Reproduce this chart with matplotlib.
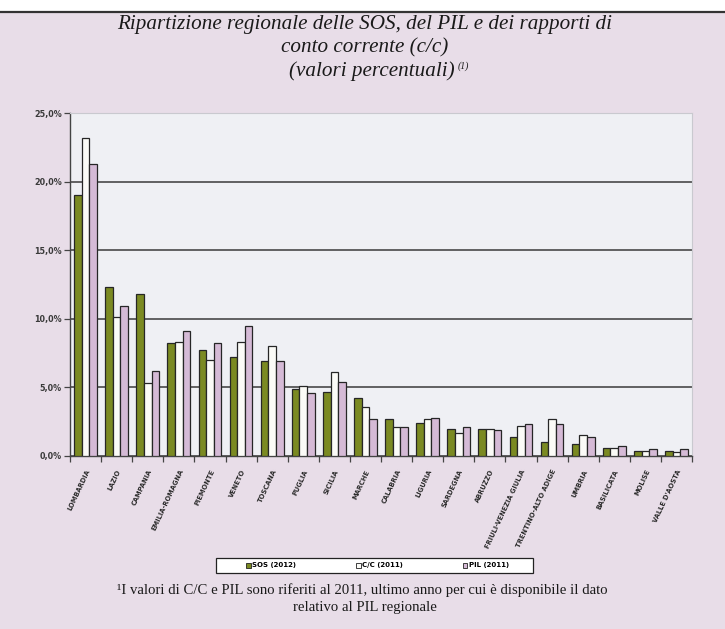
import numpy as np
import matplotlib
matplotlib.use("Agg")
import matplotlib.pyplot as plt
from matplotlib.patches import Patch, Rectangle
from matplotlib.lines import Line2D

regions = ["LOMBARDIA", "LAZIO", "CAMPANIA", "EMILIA-ROMAGNA", "PIEMONTE", "VENETO",
           "TOSCANA", "PUGLIA", "SICILIA", "MARCHE", "CALABRIA", "LIGURIA",
           "SARDEGNA", "ABRUZZO", "FRIULI-VENEZIA GIULIA", "TRENTINO-ALTO ADIGE",
           "UMBRIA", "BASILICATA", "MOLISE", "VALLE D'AOSTA"]
sos = [19.0, 12.3, 11.8, 8.2, 7.7, 7.2, 6.9, 4.9, 4.7, 4.2, 2.7, 2.4,
       2.0, 2.0, 1.4, 1.0, 0.9, 0.6, 0.4, 0.4]
cc = [23.2, 10.1, 5.3, 8.3, 7.0, 8.3, 8.0, 5.1, 6.1, 3.6, 2.1, 2.7,
      1.7, 2.0, 2.2, 2.7, 1.5, 0.6, 0.4, 0.3]
pil = [21.3, 10.9, 6.2, 9.1, 8.2, 9.5, 6.9, 4.6, 5.4, 2.7, 2.1, 2.8,
       2.1, 1.9, 2.3, 2.3, 1.4, 0.7, 0.5, 0.5]
series = ["SOS (2012)", "C/C (2011)", "PIL (2011)"]
yticks = [0, 5, 10, 15, 20, 25]

W, H = 725, 629
GREEN, WHITE, MAUVE = "#7b8a22", "#fbfbf7", "#d5bad6"
PAGE = "#e8dde8"


def box(x0, y0, x1, y1):
    """pixel box (top-left origin) -> figure fraction rect"""
    return [x0 / W, 1 - y1 / H, (x1 - x0) / W, (y1 - y0) / H]


fig = plt.figure(figsize=(W / 100, H / 100), dpi=100)
fig.patch.set_facecolor(PAGE)

# striscia bianca + filetto in alto (pagina scansionata)
fig.patches.append(Rectangle((0, 1 - 11 / H), 1, 11 / H, transform=fig.transFigure,
                             facecolor="white", edgecolor="none", zorder=0))
fig.lines.append(Line2D([0, 1], [1 - 12 / H, 1 - 12 / H], transform=fig.transFigure,
                        color="#333333", lw=1.6))

serif = ["Liberation Serif", "DejaVu Serif"]
tkw = dict(family=serif, style="italic", fontsize=15.2, ha="center", va="center", color="#1a1a1a")
fig.text(365 / W, 1 - 25 / H, "Ripartizione regionale delle SOS, del PIL e dei rapporti di", **tkw)
fig.text(365 / W, 1 - 48 / H, "conto corrente (c/c)", **tkw)
t3 = fig.text(372 / W, 1 - 71 / H, "(valori percentuali)", **tkw)
fig.canvas.draw()
bb = t3.get_window_extent()
fig.text((bb.x1 + 3) / W, 1 - 66 / H, "(1)", family=serif, style="italic",
         fontsize=7, ha="left", va="center", color="#1a1a1a")

ax = fig.add_axes(box(70, 113, 692, 456))
ax.set_facecolor("#eff0f4")
x = np.arange(len(regions))
w = 0.245
for off, vals, col in [(-w, sos, GREEN), (0, cc, WHITE), (w, pil, MAUVE)]:
    ax.bar(x + off, vals, w, color=col, edgecolor="#262626", linewidth=0.9, zorder=3)

ax.set_xlim(-0.5, len(regions) - 0.5)
ax.set_ylim(0, 25)
ax.set_yticks(yticks)
ax.set_yticklabels([("%.1f%%" % v).replace(".", ",") for v in yticks],
                   fontsize=5.8, fontweight="bold", color="#3a3a3a")
ax.grid(axis="y", color="#3a3a3a", linewidth=1.1, zorder=0)
ax.set_xticks(x)
ax.set_xticklabels(regions, rotation=65, ha="right", rotation_mode="anchor",
                   fontsize=4.8, fontweight="bold", color="#2a2a2a")
ax.set_xticks(np.arange(-0.5, len(regions), 1), minor=True)
ax.tick_params(axis="x", which="major", length=0, pad=9)
ax.tick_params(axis="x", which="minor", length=4, width=0.9, color="#444444")
ax.tick_params(axis="y", length=4, width=0.9, color="#444444", pad=2)
for s in ["left", "bottom"]:
    ax.spines[s].set_color("#444444")
    ax.spines[s].set_linewidth(1.0)
for s in ["top", "right"]:
    ax.spines[s].set_color("#c9c9cf")
    ax.spines[s].set_linewidth(0.8)

# riquadro legenda
lx0, ly0, lw_, lh = box(216, 558, 533, 573)
fig.patches.append(Rectangle((lx0, ly0), lw_, lh, transform=fig.transFigure,
                             facecolor="white", edgecolor="#222222", linewidth=0.9, zorder=1))
handles = [Patch(facecolor=c, edgecolor="#222222", linewidth=0.6) for c in (GREEN, WHITE, MAUVE)]
fig.legend(handles, series, loc="center", ncol=3,
           bbox_to_anchor=(lx0 + lw_ / 2 + 0.004, ly0 + lh / 2),
           prop={"weight": "bold", "size": 5}, handlelength=0.7, handleheight=0.7,
           handletextpad=0.2, columnspacing=8.6, borderpad=0.2, frameon=False)

fkw = dict(family=serif, fontsize=10.6, ha="center", va="center", color="#1a1a1a")
fig.text(362 / W, 1 - 590 / H,
         "\u00b9I valori di C/C e PIL sono riferiti al 2011, ultimo anno per cui \u00e8 disponibile il dato",
         **fkw)
fig.text(365 / W, 1 - 607 / H, "relativo al PIL regionale", **fkw)

fig.savefig("out.png", dpi=100, facecolor=fig.get_facecolor())
